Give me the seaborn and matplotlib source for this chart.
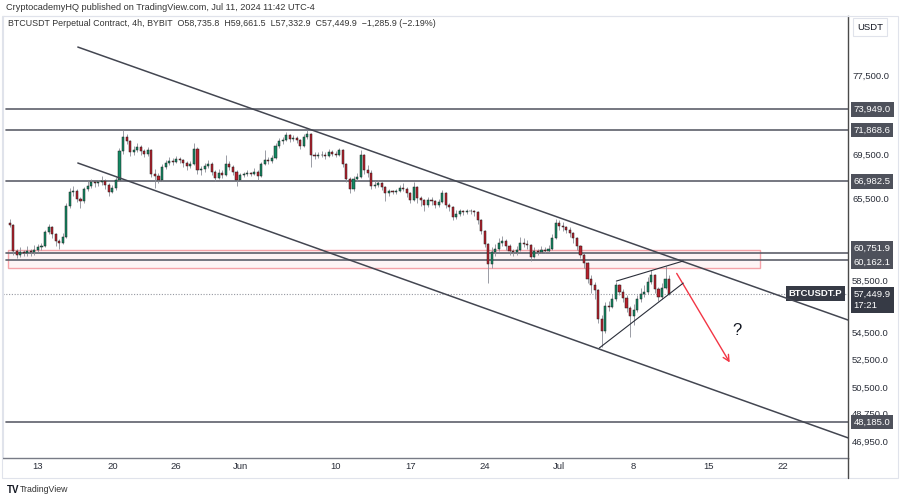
import numpy as np
import pandas as pd
import matplotlib
matplotlib.use("Agg")
import matplotlib.pyplot as plt
import matplotlib.dates as mdates
from matplotlib.ticker import FixedLocator, NullLocator
from matplotlib.patches import Rectangle
from matplotlib.lines import Line2D
import seaborn as sns

# BTCUSDT.P, candles (8h steps), prices in thousands
start = "2024-05-10 08:00"
first_open = 63.3
closes = [
    63.1, 60.9, 60.6, 60.8, 60.7, 60.9, 60.8, 61.0, 61.2, 61.3,
    62.5, 62.9, 62.3, 61.7, 61.6, 62.1, 64.8, 66.0, 66.1, 65.4,
    65.2, 66.3, 66.6, 66.9, 66.8, 66.9, 67.0, 66.7, 66.0, 66.4,
    67.1, 69.8, 71.2, 70.8, 69.7, 69.9, 70.2, 69.8, 69.6, 69.9,
    67.7, 67.5, 67.1, 68.3, 68.7, 68.9, 68.8, 69.1, 69.0, 68.7,
    68.4, 68.6, 70.0, 68.0, 68.1, 68.4, 68.6, 67.9, 67.3, 67.8,
    67.6, 68.6, 68.3, 67.9, 67.1, 67.6, 67.7, 67.8, 67.7, 67.9,
    67.5, 68.6, 69.0, 68.9, 69.2, 70.3, 70.8, 70.9, 71.4, 71.0,
    71.1, 70.9, 70.3, 71.2, 71.5, 69.5, 69.4, 69.5, 69.5, 69.4,
    69.7, 69.6, 69.5, 69.9, 68.6, 67.2, 66.3, 67.2, 67.4, 69.5,
    68.0, 67.8, 66.6, 66.7, 66.8, 66.5, 65.9, 66.1, 66.0, 66.1,
    66.4, 66.3, 65.9, 65.3, 66.5, 65.5, 65.3, 64.9, 65.3, 65.2,
    64.9, 65.1, 65.9, 64.9, 64.7, 63.8, 64.1, 64.3, 64.2, 64.3,
    64.3, 64.2, 63.5, 62.6, 61.5, 59.8, 60.8, 61.1, 61.6, 61.7,
    61.3, 60.9, 60.8, 61.0, 61.6, 61.5, 61.4, 60.4, 60.9, 60.8,
    61.0, 60.9, 61.1, 62.0, 63.3, 63.0, 62.9, 62.7, 62.4, 62.0,
    61.3, 60.6, 59.9, 58.6, 58.1, 57.7, 55.5, 54.6, 56.5, 56.4,
    57.0, 58.1, 57.6, 57.1, 56.3, 55.7, 56.2, 57.0, 57.4, 57.6,
    58.4, 58.9, 57.8, 57.2, 57.9, 58.6, 57.45,
]
highs = [
    63.6, 63.2, 61.1, 61.2, 61.0, 61.3, 61.1, 61.4, 61.5, 61.6,
    62.7, 63.2, 63.0, 62.4, 61.9, 62.4, 65.0, 66.4, 66.6, 66.3,
    65.6, 66.5, 67.0, 67.2, 67.0, 67.1, 67.5, 67.2, 66.8, 66.7,
    67.4, 70.1, 71.9, 71.5, 70.9, 70.3, 70.6, 70.4, 70.0, 70.2,
    70.0, 68.1, 67.8, 68.6, 69.0, 69.3, 69.2, 69.4, 69.3, 69.1,
    68.9, 68.9, 70.6, 70.2, 68.4, 68.7, 69.0, 68.8, 68.0, 68.1,
    68.0, 69.5, 68.9, 68.5, 68.0, 67.8, 67.9, 68.0, 67.9, 68.2,
    68.0, 68.8, 69.9, 69.3, 69.5, 70.6, 71.1, 71.2, 71.7, 71.5,
    71.4, 71.3, 71.0, 71.5, 71.9, 71.6, 69.7, 69.7, 69.8, 69.7,
    70.0, 69.9, 69.8, 70.1, 70.0, 68.7, 67.4, 67.5, 67.8, 69.9,
    69.6, 68.5, 68.0, 67.0, 67.1, 66.9, 66.6, 66.3, 66.2, 66.3,
    66.7, 66.8, 66.5, 66.0, 66.9, 66.6, 65.7, 65.4, 65.6, 65.6,
    65.3, 65.4, 66.2, 66.0, 65.0, 64.8, 64.4, 64.5, 64.4, 64.5,
    64.5, 64.4, 64.3, 63.6, 62.7, 61.6, 61.2, 61.5, 62.0, 62.2,
    61.9, 61.5, 61.1, 61.3, 62.1, 62.0, 61.8, 61.5, 61.2, 61.1,
    61.3, 61.2, 61.4, 62.3, 63.6, 63.5, 63.4, 63.0, 62.9, 62.5,
    62.1, 61.4, 60.7, 60.0, 58.9, 58.4, 57.8, 55.8, 56.8, 56.9,
    57.4, 58.4, 58.2, 57.8, 57.3, 56.5, 56.6, 57.3, 57.9, 58.1,
    58.8, 59.3, 59.0, 58.0, 58.3, 59.66, 58.9,
]
lows = [
    62.9, 60.6, 60.3, 60.4, 60.5, 60.5, 60.5, 60.6, 60.8, 61.0,
    61.2, 62.3, 62.0, 61.3, 61.1, 61.5, 62.0, 64.6, 65.7, 65.1,
    64.6, 65.0, 66.1, 66.4, 66.5, 66.6, 66.7, 66.3, 65.7, 65.9,
    66.2, 67.0, 69.6, 70.5, 69.4, 69.5, 69.7, 69.5, 69.3, 69.4,
    67.4, 66.4, 66.8, 67.0, 68.1, 68.5, 68.5, 68.7, 68.7, 68.3,
    68.0, 68.2, 68.5, 67.7, 67.6, 67.9, 68.2, 67.6, 67.0, 67.2,
    67.3, 67.5, 68.0, 67.6, 66.6, 67.0, 67.4, 67.5, 67.5, 67.6,
    67.1, 67.4, 68.5, 68.6, 68.7, 69.1, 70.1, 70.5, 70.8, 70.7,
    70.8, 70.6, 70.0, 70.2, 71.0, 68.3, 69.1, 69.2, 69.3, 69.1,
    69.3, 69.4, 69.3, 69.4, 68.3, 66.9, 65.9, 66.1, 67.0, 67.3,
    67.7, 67.4, 66.3, 66.4, 66.5, 66.2, 65.2, 65.7, 65.8, 65.8,
    66.0, 66.1, 65.6, 65.0, 65.2, 65.0, 64.8, 64.3, 64.7, 64.9,
    64.6, 64.7, 65.0, 64.6, 64.3, 63.5, 63.6, 63.9, 64.0, 64.1,
    64.1, 63.9, 63.2, 62.3, 61.2, 58.3, 59.5, 60.5, 60.9, 61.3,
    61.0, 60.6, 60.5, 60.6, 60.9, 61.2, 61.1, 60.1, 60.3, 60.6,
    60.7, 60.7, 60.8, 61.0, 61.9, 62.7, 62.6, 62.4, 62.1, 61.6,
    61.0, 60.3, 59.5, 58.3, 57.5, 57.0, 55.2, 53.4, 54.4, 56.1,
    56.3, 56.9, 57.3, 56.8, 56.0, 54.1, 55.0, 56.0, 56.8, 57.2,
    57.4, 58.2, 57.5, 56.9, 57.0, 57.8, 57.33,
]

last_price = 57449.9
levels = [73949.0, 71868.6, 66982.5, 60751.9, 60162.1, 48185.0]
level_labels = ["73,949.0", "71,868.6", "66,982.5", "60,751.9", "60,162.1", "48,185.0"]
price_ticks = [77500, 69500, 65500, 58500, 54500, 52500, 50500, 48750, 46950]
price_tick_labels = ["77,500.0", "69,500.0", "65,500.0", "58,500.0", "54,500.0",
                     "52,500.0", "50,500.0", "48,750.0", "46,950.0"]
time_ticks = ["2024-05-13", "2024-05-20", "2024-05-26", "2024-06-01", "2024-06-10",
              "2024-06-17", "2024-06-24", "2024-07-01", "2024-07-08", "2024-07-15", "2024-07-22"]
time_labels = ["13", "20", "26", "Jun", "10", "17", "24", "Jul", "8", "15", "22"]

# drawings on the chart
channel_t = ["2024-05-16 18:00", "2024-07-28 04:00"]
channel_upper_p = [80530, 55400]
channel_lower_p = [68700, 47140]
wedge_upper_t = ["2024-07-06 09:00", "2024-07-12 16:00"]
wedge_upper_p = [58440, 60070]
wedge_lower_t = ["2024-07-04 18:30", "2024-07-12 16:00"]
wedge_lower_p = [53320, 58280]
zone_t = ["2024-05-10 04:00", "2024-07-19 21:00"]
zone_p = [59500, 61020]
arrow_t = ["2024-07-11 22:00", "2024-07-17 04:00"]
arrow_p = [59250, 52100]
question_t, question_p = "2024-07-17 17:30", 54650

up_color, down_color = "#138a64", "#b8202c"
dark = "#131722"

sns.set_theme(style="white")
plt.rcParams["font.family"] = ["Liberation Sans", "DejaVu Sans"]

df = pd.DataFrame({
    "time": pd.date_range(start, periods=len(closes), freq="8h"),
    "close": np.array(closes) * 1000,
    "high": np.array(highs) * 1000,
    "low": np.array(lows) * 1000,
})
df["open"] = df["close"].shift(1).fillna(first_open * 1000)
df["t"] = mdates.date2num(df["time"])
up = df["close"] >= df["open"]


def num(ts):
    return mdates.date2num(pd.to_datetime(ts))


fig = plt.figure(figsize=(9, 5), dpi=100)
fig.patch.set_facecolor("white")
ax = fig.add_axes([3 / 900, 42 / 500, 845 / 900, 442 / 500])
ax.set_facecolor("white")
ax.set_yscale("log")

# zone + levels
z0, z1 = num(zone_t)
ax.add_patch(Rectangle((z0, zone_p[0]), z1 - z0, zone_p[1] - zone_p[0],
                       facecolor="#f23645", alpha=0.05, edgecolor="none", zorder=1))
ax.add_patch(Rectangle((z0, zone_p[0]), z1 - z0, zone_p[1] - zone_p[0],
                       facecolor="none", edgecolor="#f5a3a9", lw=1.0, zorder=1))
for lv in levels:
    ax.axhline(lv, xmin=0.004, color="#5d606b", lw=1.2, zorder=1)
ax.axhline(last_price, color="#9598a1", lw=0.8, ls=(0, (1, 1.5)), zorder=1)

# candles
ax.vlines(df["t"], df["low"], df["high"], color="#8a8d96", lw=0.6, zorder=2)
ax.bar(df["t"], df["close"] - df["open"], bottom=df["open"], width=0.2,
       color=np.where(up, up_color, down_color), edgecolor="#1e1e1e",
       linewidth=0.35, zorder=3)

# channel and wedge
sns.lineplot(x=num(channel_t), y=channel_upper_p, ax=ax, color="#434651", lw=1.1, zorder=4)
sns.lineplot(x=num(channel_t), y=channel_lower_p, ax=ax, color="#434651", lw=1.1, zorder=4)
sns.lineplot(x=num(wedge_upper_t), y=wedge_upper_p, ax=ax, color="#2a2e39", lw=0.8, zorder=4)
sns.lineplot(x=num(wedge_lower_t), y=wedge_lower_p, ax=ax, color="#2a2e39", lw=0.8, zorder=4)

a0, a1 = num(arrow_t)
ax.annotate("", xy=(a1, arrow_p[1]), xytext=(a0, arrow_p[0]),
            arrowprops=dict(arrowstyle="->", color="#f23645", lw=1.0, mutation_scale=11))
ax.text(num(question_t), question_p, "?", fontsize=12, color=dark, ha="center", va="center")

# axes
ax.set_xlim(num("2024-05-09 17:10"), num("2024-07-28 03:40"))
ax.set_ylim(45860, 84030)
ax.yaxis.tick_right()
ax.yaxis.set_major_locator(FixedLocator(price_ticks))
ax.yaxis.set_minor_locator(NullLocator())
ax.set_yticklabels(price_tick_labels)
ax.set_xticks(num(time_ticks))
ax.set_xticklabels(time_labels)
ax.xaxis.set_minor_locator(NullLocator())
ax.tick_params(axis="both", length=0, labelsize=6.8, colors="#2a2e39")
ax.tick_params(axis="y", pad=3)
ax.tick_params(axis="x", pad=3.2)
ax.set_xlabel("")
ax.set_ylabel("")
ax.grid(False)
for side in ["top", "left"]:
    ax.spines[side].set_color("#e0e3eb")
    ax.spines[side].set_linewidth(0.8)
ax.spines["bottom"].set_color("#787b86")
ax.spines["bottom"].set_linewidth(1.0)
ax.spines["right"].set_color("#4a4a4a")
ax.spines["right"].set_linewidth(1.0)

# price labels on the scale
ytr = ax.get_yaxis_transform()
label_shift = [0, 0, 0, 3.4, -1.4, 0]
for lv, lab, dy in zip(levels, level_labels, label_shift):
    ax.annotate(lab, xy=(1, lv), xycoords=ytr, xytext=(4, dy), textcoords="offset points",
                ha="left", va="center", fontsize=6.8, color="white", annotation_clip=False,
                bbox=dict(boxstyle="square,pad=0.3", fc="#4e515b", ec="none"))
ax.annotate("57,449.9\n17:21", xy=(1, last_price), xycoords=ytr, xytext=(4, -4.6),
            textcoords="offset points", ha="left", va="center", fontsize=6.8, color="white",
            linespacing=1.3, annotation_clip=False,
            bbox=dict(boxstyle="square,pad=0.3", fc="#363a45", ec="none"))
ax.annotate("BTCUSDT.P", xy=(1, last_price), xycoords=ytr, xytext=(-4, 0),
            textcoords="offset points", ha="right", va="center", fontsize=6.8,
            color="white", weight="bold", annotation_clip=False,
            bbox=dict(boxstyle="square,pad=0.3", fc="#363a45", ec="none"))

# frame, header, footer
fig.add_artist(Rectangle((2 / 900, 22 / 500), 896 / 900, 462 / 500, transform=fig.transFigure,
                         fill=False, ec="#e0e3eb", lw=0.8))
fig.add_artist(Line2D([848 / 900, 848 / 900], [22 / 500, 42 / 500], transform=fig.transFigure,
                      color="#4a4a4a", lw=1.0))
fig.text(857 / 900, 1 - 27 / 500, "USDT", fontsize=6.8, color=dark, va="center", ha="left",
         bbox=dict(boxstyle="square,pad=0.45", fc="white", ec="#e0e3eb", lw=0.8))
fig.text(6 / 900, 1 - 8 / 500, "CryptocademyHQ published on TradingView.com, Jul 11, 2024 11:42 UTC-4",
         fontsize=6.6, color="#333333", va="center", ha="left")
fig.text(8 / 900, 1 - 24 / 500,
         "BTCUSDT Perpetual Contract, 4h, BYBIT  O58,735.8  H59,661.5  L57,332.9  C57,449.9  \u22121,285.9 (\u22122.19%)",
         fontsize=6.4, color="#333333", va="center", ha="left")
fig.text(7 / 900, 1 - 490 / 500, "TV", fontsize=7, weight="bold", color=dark, va="center")
fig.text(20 / 900, 1 - 490 / 500, "TradingView", fontsize=6.3, color="#333333", va="center")

fig.savefig("out.png", dpi=100, facecolor="white")
